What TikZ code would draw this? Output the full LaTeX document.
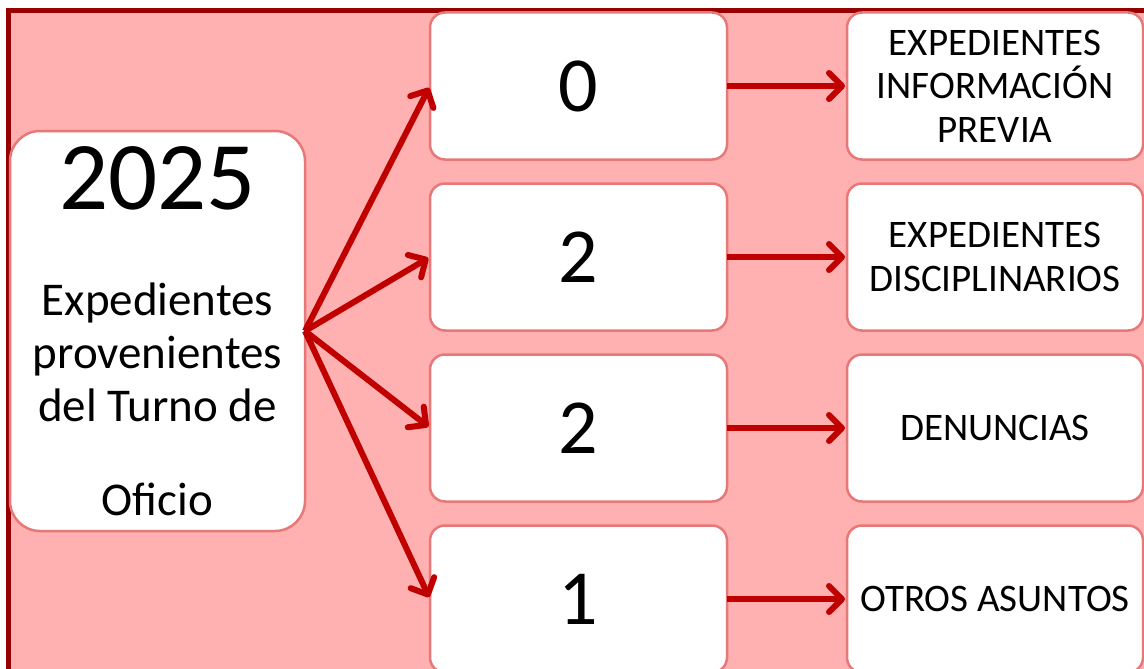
\documentclass[tikz,border=0pt]{standalone}
\usepackage{fontspec}
\setmainfont{Carlito}
\usetikzlibrary{arrows.meta,positioning}

\definecolor{fondo}{RGB}{255,176,176}
\definecolor{marco}{RGB}{150,0,0}
\definecolor{bordecaja}{RGB}{232,120,120}
\definecolor{flechacol}{RGB}{192,0,0}

\begin{document}
\begin{tikzpicture}[x=1pt,y=-1pt,
	flecha/.style={draw=flechacol,line width=6pt,shorten >=2pt,
		-{Straight Barb[length=13pt,width=26pt,round]}},
	caja/.style={rectangle,rounded corners=15pt,draw=bordecaja,line width=2.5pt,fill=white,
		outer sep=0pt,inner sep=0pt,minimum width=297pt,minimum height=147pt,align=center},
	cifra/.style={caja,font=\fontsize{78}{80}\selectfont},
	tipo/.style={caja,minimum width=296pt,font=\fontsize{39}{43.5}\selectfont},
	anio node/.style={caja,rounded corners=30pt,minimum width=295pt,minimum height=400pt,
		font=\fontsize{47}{53}\selectfont}]
	\useasboundingbox (0,0) rectangle (1144,669);
	\clip (0,0) rectangle (1144,669);
	\fill[white] (0,0) rectangle (1144,669);
	\fill[fondo] (8,10.5) rectangle (1170,700);
	\draw[marco,line width=5pt] (8,700) |- (1170,10.5);

	\node[anio node] (anio) at (157.5,331) {{\fontsize{97}{97}\selectfont 2025}\\[53pt]
		Expedientes\\provenientes\\del Turno de\\[41pt]Oficio};
	\node[cifra] (n1) at (578.5,86) {0};
	\node[cifra] (n2) [below=24pt of n1] {2};
	\node[cifra] (n3) [below=24pt of n2] {2};
	\node[cifra] (n4) [below=24pt of n3] {1};
	\node[tipo] (t1) [right=120pt of n1] {EXPEDIENTES\\INFORMACIÓN\\PREVIA};
	\node[tipo] (t2) [right=120pt of n2] {EXPEDIENTES\\DISCIPLINARIOS};
	\node[tipo] (t3) [right=120pt of n3] {DENUNCIAS};
	\node[tipo] (t4) [right=120pt of n4] {OTROS ASUNTOS};

	\path[every edge/.style={flecha}]
	(anio.east) edge (n1.west)
	edge (n2.west)
	edge (n3.west)
	edge (n4.west)
	(n1) edge (t1)
	(n2) edge (t2)
	(n3) edge (t3)
	(n4) edge (t4);
\end{tikzpicture}
\end{document}
